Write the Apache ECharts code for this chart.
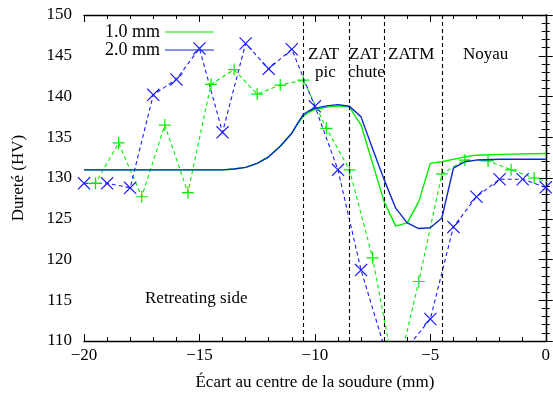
<!DOCTYPE html>
<html><head><meta charset="utf-8">
<script src="https://cdn.jsdelivr.net/npm/echarts@6/dist/echarts.min.js"></script>
<style>html,body{margin:0;padding:0;background:#fff}#c{width:553px;height:399px}</style>
</head><body><div id="c"></div>
<script>
// ---- data ----
const legendNames = ['1.0 mm', '2.0 mm'];
// smooth model curves
const model1X = [-20, -14, -13.5, -13, -12.5, -12, -11.5, -11, -10.75, -10.5, -10.25, -10, -9.5, -9, -8.5, -8, -7, -6.5, -6, -5.5, -5, -4.5, -3.5, -3, -2, 0];
const model1Y = [131.0, 131.0, 131.1, 131.3, 131.8, 132.6, 133.9, 135.5, 136.6, 137.6, 138.1, 138.4, 138.7, 138.85, 138.7, 136.5, 127.1, 124.1, 124.5, 127.1, 131.8, 132.0, 132.6, 132.8, 132.9, 133.0];
const model2X = [-20, -14, -13.5, -13, -12.5, -12, -11.5, -11, -10.75, -10.5, -10.25, -10, -9.5, -9, -8.5, -8, -7.5, -7, -6.5, -6, -5.5, -5, -4.5, -4, -3.5, -3, -2, 0];
const model2Y = [131.0, 131.0, 131.1, 131.3, 131.8, 132.6, 133.9, 135.5, 136.7, 137.8, 138.25, 138.55, 138.85, 139.0, 138.8, 137.5, 133.6, 129.8, 126.3, 124.5, 123.8, 123.9, 125.1, 131.2, 132.0, 132.2, 132.3, 132.3];
// measured hardness
const meas1X = [-20.5, -19.5, -18.5, -17.5, -16.5, -15.5, -14.5, -13.5, -12.5, -11.5, -10.5, -9.5, -8.5, -7.5, -6.5, -5.5, -4.5, -3.5, -2.5, -1.5, -0.5, 0.5];
const meas1Y = [129.3, 129.35, 134.3, 127.7, 136.5, 128.2, 141.5, 143.3, 140.3, 141.4, 142.0, 136.1, 131.0, 120.2, 105.2, 117.3, 130.5, 132.2, 132.1, 131.0, 130.0, 129.2];
const meas2X = [-20, -19, -18, -17, -16, -15, -14, -13, -12, -11, -10, -9, -8, -7, -6, -5, -4, -3, -2, -1, 0];
const meas2Y = [129.35, 129.35, 128.8, 140.2, 142.1, 145.9, 135.6, 146.5, 143.4, 145.8, 138.8, 131.0, 118.7, 109.3, 109.2, 112.7, 124.0, 127.7, 129.85, 129.85, 128.85];
// zone boundaries (vertical dashed lines)
const zoneBounds = [-10.5, -8.5, -7, -4.5];

const FONT = '"Liberation Serif", "DejaVu Serif", serif';
const GREEN = '#00ee00', BLUE_SOLID = '#0a28cc', BLUE_DASH = '#1a1aff';
const zip = (xs, ys) => xs.map((x, i) => [x, ys[i]]);
const PLUS = 'path://M-0.1,-1L0.1,-1L0.1,-0.1L1,-0.1L1,0.1L0.1,0.1L0.1,1L-0.1,1L-0.1,0.1L-1,0.1L-1,-0.1L-0.1,-0.1Z';
const CROSS = 'path://M-1,-0.87L-0.87,-1L0,-0.13L0.87,-1L1,-0.87L0.13,0L1,0.87L0.87,1L0,0.13L-0.87,1L-1,0.87L-0.13,0Z';
const LEGLINE = 'path://M0,0L40,0L40,1L0,1Z';
const minus = v => String(v).replace('-', '\u2212');

const chart = echarts.init(document.getElementById('c'), null, {renderer: 'canvas'});
const axCommon = {
  axisLine: {show: true, lineStyle: {color: '#000', width: 1.3}},
  axisTick: {show: true, inside: true, length: 7, lineStyle: {color: '#000'}},
  minorTick: {show: true, splitNumber: 5, length: 4, lineStyle: {color: '#000'}},
  splitLine: {show: false}
};
chart.setOption({
  animation: false,
  grid: {left: 84, right: 7, top: 15, bottom: 58},
  legend: {
    data: legendNames.map(n => ({name: n, icon: LEGLINE})), orient: 'vertical', left: 100, top: 18, align: 'right',
    itemWidth: 49, itemHeight: 1.5, itemGap: 0, padding: 5,
    textStyle: {fontFamily: FONT, fontSize: 18, color: '#000', padding: [0, 0, 0, 0]}
  },
  xAxis: [
    Object.assign({type: 'value', min: -20, max: 0, interval: 5, position: 'bottom',
      name: 'Écart au centre de la soudure (mm)', nameLocation: 'middle', nameGap: 33,
      nameTextStyle: {fontFamily: FONT, fontSize: 17, color: '#000'},
      axisLabel: {fontFamily: FONT, fontSize: 17, color: '#000', margin: 6, formatter: minus}}, axCommon),
    Object.assign({type: 'value', min: -20, max: 0, interval: 5, position: 'top',
      axisLabel: {show: false}}, axCommon)
  ],
  yAxis: [
    Object.assign({type: 'value', min: 110, max: 150, interval: 5, position: 'left',
      name: 'Dureté (HV)', nameLocation: 'middle', nameGap: 57, nameRotate: 90,
      nameTextStyle: {fontFamily: FONT, fontSize: 17, color: '#000'},
      axisLabel: {fontFamily: FONT, fontSize: 17, color: '#000', margin: 12}}, axCommon),
    Object.assign({type: 'value', min: 110, max: 150, interval: 5, position: 'right',
      axisLabel: {show: false}}, axCommon)
  ],
  series: [
    {name: 'meas1', type: 'line', data: zip(meas1X, meas1Y), symbol: PLUS, symbolSize: 12, showAllSymbol: true,
      lineStyle: {color: GREEN, width: 1.1, type: [4, 3]}, itemStyle: {color: GREEN}, clip: true, z: 3,
      markLine: {silent: true, symbol: 'none', label: {show: false},
        lineStyle: {color: '#000', type: [4, 3], width: 1.1},
        data: zoneBounds.map(v => ({xAxis: v}))}},
    {name: 'meas2', type: 'line', data: zip(meas2X, meas2Y), symbol: CROSS, symbolSize: 13, showAllSymbol: true,
      lineStyle: {color: BLUE_DASH, width: 1.1, type: [4, 3]}, itemStyle: {color: BLUE_DASH}, clip: true, z: 3},
    {name: legendNames[0], type: 'line', data: zip(model1X, model1Y), symbol: 'none',
      lineStyle: {color: GREEN, width: 1.4}, itemStyle: {color: GREEN}, z: 4},
    {name: legendNames[1], type: 'line', data: zip(model2X, model2Y), symbol: 'none',
      lineStyle: {color: BLUE_SOLID, width: 1.4}, itemStyle: {color: BLUE_SOLID}, z: 5}
  ],
  graphic: [
    {type: 'text', left: 308, top: 46, style: {text: 'ZAT', font: '17px ' + FONT, fill: '#000'}},
    {type: 'text', left: 315, top: 64, style: {text: 'pic', font: '17px ' + FONT, fill: '#000'}},
    {type: 'text', left: 349, top: 46, style: {text: 'ZAT', font: '17px ' + FONT, fill: '#000'}},
    {type: 'text', left: 348, top: 64, style: {text: 'chute', font: '17px ' + FONT, fill: '#000'}},
    {type: 'text', left: 388, top: 46, style: {text: 'ZATM', font: '17px ' + FONT, fill: '#000'}},
    {type: 'text', left: 463, top: 46, style: {text: 'Noyau', font: '17px ' + FONT, fill: '#000'}},
    {type: 'text', left: 145, top: 290, style: {text: 'Retreating side', font: '17px ' + FONT, fill: '#000'}}
  ]
});
</script></body></html>
